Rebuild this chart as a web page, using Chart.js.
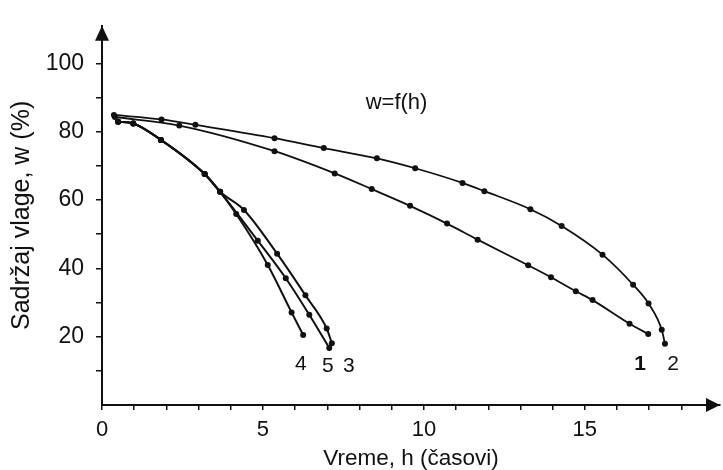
<!DOCTYPE html>
<html>
<head>
<meta charset="utf-8">
<script src="https://cdn.jsdelivr.net/npm/chart.js@4/dist/chart.umd.min.js"></script>
<style>
html,body{margin:0;padding:0;background:#fff;}
#wrap{width:723px;height:470px;}
</style>
</head>
<body>
<div id="wrap"><canvas id="c" width="723" height="470"></canvas></div>
<script>
// ---- data ----
const curve1H = [0.4, 2.4, 5.36, 7.23, 8.38, 9.57, 10.72, 11.67, 13.24, 13.95, 14.72, 15.24, 16.39, 16.97];
const curve1W = [84.3, 81.8, 74.3, 67.8, 63.2, 58.3, 53.1, 48.4, 40.9, 37.4, 33.3, 30.7, 23.8, 20.8];

const curve2H = [0.37, 1.85, 2.9, 5.36, 6.89, 8.54, 9.73, 11.2, 11.88, 13.31, 14.28, 15.55, 16.5, 16.98, 17.39, 17.49];
const curve2W = [84.9, 83.6, 82.0, 78.1, 75.2, 72.2, 69.3, 65.0, 62.6, 57.3, 52.4, 44.0, 35.2, 29.7, 22.0, 17.9];

const curve3H = [0.5, 0.97, 1.83, 3.19, 3.67, 4.41, 5.44, 6.32, 6.98, 7.14];
const curve3W = [82.9, 82.4, 77.6, 67.6, 62.4, 57.1, 44.3, 32.1, 22.4, 18.1];

const curve4H = [0.5, 0.97, 1.83, 3.19, 3.67, 4.17, 5.15, 5.89, 6.25];
const curve4W = [82.9, 82.4, 77.6, 67.6, 62.4, 55.9, 41.0, 27.1, 20.5];

const curve5H = [0.5, 0.97, 1.83, 3.19, 3.67, 4.84, 5.71, 6.44, 7.06];
const curve5W = [82.9, 82.4, 77.6, 67.6, 62.4, 48.1, 37.1, 26.4, 16.7];

const xTickValues = [0,1,2,3,4,5,6,7,8,9,10,11,12,13,14,15,16,17,18];
const xTickLabels = ['0','5','10','15'];
const yTickValues = [10,20,30,40,50,60,70,80,90,100];
const yTickLabels = ['20','40','60','80','100'];

const curveNames = ['1','2','3','4','5'];
const curveNameH = [16.72, 17.74, 7.67, 6.18, 7.02];
const curveNameW = [12.0, 12.0, 11.4, 12.0, 11.4];

const xTitle = 'Vreme, h (časovi)';
const yTitle = 'Sadržaj vlage, w (%)';
const formulaText = 'w=f(h)';
const formulaH = 9.15, formulaW = 88.3;

const X_MAX = 19.2, Y_MAX = 111;
// --------------------------------------

function pts(hs, ws){ return hs.map((h,i)=>({x:h, y:ws[i]})); }
function ds(hs, ws, bw){
  return {data: pts(hs, ws), borderColor:'#111', backgroundColor:'#111', borderWidth:bw,
    pointRadius:3, pointHoverRadius:3, pointBackgroundColor:'#111', pointBorderWidth:0,
    cubicInterpolationMode:'monotone', fill:false, clip:false};
}

const FONT = '"Liberation Sans", Arial, sans-serif';

const extras = {
  id:'extras',
  afterDraw(chart){
    const ctx = chart.ctx, xs = chart.scales.x, ys = chart.scales.y;
    const ax = xs.getPixelForValue(0), ay = ys.getPixelForValue(0);
    ctx.save();
    ctx.fillStyle = '#111';
    // y arrow
    const ty = ys.getPixelForValue(Y_MAX);
    ctx.beginPath();
    ctx.moveTo(ax, ty); ctx.lineTo(ax-7, ty+15); ctx.lineTo(ax+7, ty+15); ctx.closePath(); ctx.fill();
    // x arrow
    const tx = xs.getPixelForValue(X_MAX);
    ctx.beginPath();
    ctx.moveTo(tx, ay); ctx.lineTo(tx-14, ay-7); ctx.lineTo(tx-14, ay+7); ctx.closePath(); ctx.fill();
    // formula
    ctx.textAlign = 'center'; ctx.textBaseline = 'middle';
    ctx.font = '22px ' + FONT;
    ctx.fillText(formulaText, xs.getPixelForValue(formulaH), ys.getPixelForValue(formulaW));
    // curve names
    curveNames.forEach((n,i)=>{
      ctx.font = (n === '1' ? 'bold ' : '') + '21px ' + FONT;
      ctx.fillText(n, xs.getPixelForValue(curveNameH[i]), ys.getPixelForValue(curveNameW[i]));
    });
    ctx.restore();
  }
};

new Chart(document.getElementById('c'), {
  type:'line',
  data:{ datasets:[
    ds(curve1H, curve1W, 1.8),
    ds(curve2H, curve2W, 1.8),
    ds(curve3H, curve3W, 2),
    ds(curve4H, curve4W, 2),
    ds(curve5H, curve5W, 2)
  ]},
  options:{
    responsive:false, devicePixelRatio:1, animation:false,
    layout:{padding:{top:17, right:0, left:0, bottom:0}},
    plugins:{legend:{display:false}, tooltip:{enabled:false}},
    scales:{
      x:{ type:'linear', min:0, max:X_MAX,
        afterFit(s){ s.height = 65; },
        afterBuildTicks(s){ s.ticks = xTickValues.map(v=>({value:v})); },
        ticks:{ autoSkip:false, maxRotation:0, color:'#111', padding:7,
          font:{family:FONT, size:22},
          callback:(v)=> xTickLabels.includes(String(v)) ? String(v) : '' },
        grid:{ drawOnChartArea:false, drawTicks:true, tickLength:5, color:'#111', lineWidth:1.5 },
        border:{ display:true, color:'#111', width:2 },
        title:{ display:true, text:xTitle, color:'#111', font:{family:FONT, size:22.5, lineHeight:1.0}, padding:{top:0,bottom:0} }
      },
      y:{ type:'linear', min:0, max:Y_MAX,
        afterFit(s){ s.width = 102; },
        afterBuildTicks(s){ s.ticks = yTickValues.map(v=>({value:v})); },
        ticks:{ autoSkip:false, color:'#111', padding:12,
          font:{family:FONT, size:23},
          callback:(v)=> yTickLabels.includes(String(v)) ? String(v) : '' },
        grid:{ drawOnChartArea:false, drawTicks:true, tickLength:6, color:'#111', lineWidth:1.5 },
        border:{ display:true, color:'#111', width:2 },
        title:{ display:true, text:yTitle, color:'#111', font:{family:FONT, size:25, lineHeight:1.0}, padding:{top:10,bottom:0} }
      }
    }
  },
  plugins:[extras]
});
</script>
</body>
</html>
